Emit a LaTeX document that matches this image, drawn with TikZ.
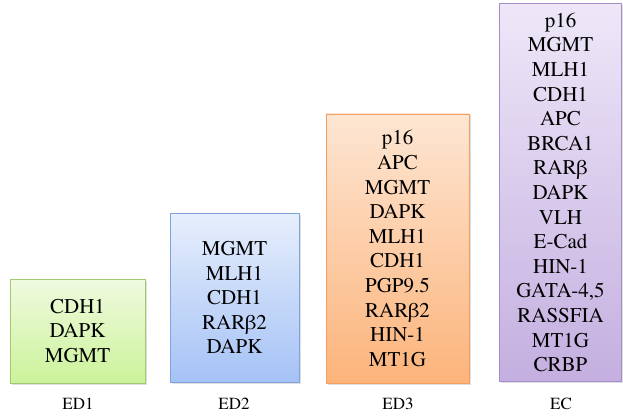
\documentclass[tikz,border=0pt]{standalone}
\usepackage{fontspec}
\setmainfont{TeX Gyre Termes}
\usetikzlibrary{shadows}
\definecolor{gtop}{HTML}{F0FADF}
\definecolor{gbot}{HTML}{CBF39A}
\definecolor{gbrd}{HTML}{A3C873}
\definecolor{btop}{HTML}{E7EFFC}
\definecolor{bbot}{HTML}{A5C2F6}
\definecolor{bbrd}{HTML}{7FA3DA}
\definecolor{otop}{HTML}{FDE6D3}
\definecolor{obot}{HTML}{FCB47B}
\definecolor{obrd}{HTML}{F5A062}
\definecolor{ptop}{HTML}{EEE7F8}
\definecolor{pbot}{HTML}{C4AFE0}
\definecolor{pbrd}{HTML}{A58CCB}
\tikzset{
  genebox/.style={draw, line width=0.9pt, inner sep=0pt, align=center,
    font=\fontsize{21}{24.6}\selectfont,
    drop shadow={opacity=0.25, shadow xshift=1.5pt, shadow yshift=-1.5pt}},
  stagelabel/.style={font=\fontsize{17}{20}\selectfont, inner sep=0pt}
}
\begin{document}
\begin{tikzpicture}[x=1pt,y=-1pt]
\useasboundingbox (0,0) rectangle (623,417);
\node[genebox, draw=gbrd, top color=gtop, bottom color=gbot,
  minimum width=135pt, minimum height=104pt] (ed1) at (77.5,331)
  {CDH1\\DAPK\\MGMT};
\node[genebox, draw=bbrd, top color=btop, bottom color=bbot,
  minimum width=129pt, minimum height=169pt] (ed2) at (234.5,297.5)
  {MGMT\\MLH1\\CDH1\\RARβ2\\DAPK};
\node[genebox, draw=obrd, top color=otop, bottom color=obot,
  minimum width=143pt, minimum height=269pt] (ed3) at (397.5,248.5)
  {p16\\APC\\MGMT\\DAPK\\MLH1\\CDH1\\PGP9.5\\RARβ2\\HIN-1\\MT1G};
\node[genebox, draw=pbrd, top color=ptop, bottom color=pbot,
  minimum width=122pt, minimum height=378pt] (ec) at (560.5,192.5)
  {p16\\MGMT\\MLH1\\CDH1\\APC\\BRCA1\\RARβ\\DAPK\\VLH\\E-Cad\\HIN-1\\GATA-4,5\\RASSFIA\\MT1G\\CRBP};
\node[stagelabel] (l1) at (78,404) {ED1};
\node[stagelabel] (l2) at (234,404) {ED2};
\node[stagelabel] (l3) at (398,404) {ED3};
\node[stagelabel] (l4) at (561,404) {EC};
\end{tikzpicture}
\end{document}
